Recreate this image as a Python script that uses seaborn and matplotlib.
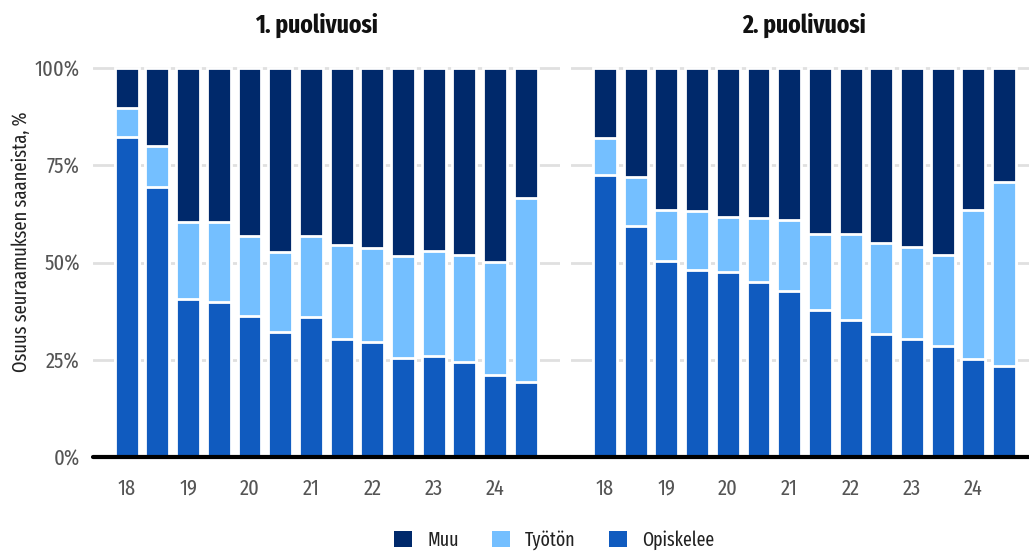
import pandas as pd
import matplotlib.pyplot as plt
import seaborn as sns
from matplotlib import font_manager
from matplotlib.patches import Patch

# Data (share of people, %)
ages = ["18", "18.5", "19", "19.5", "20", "20.5", "21", "21.5",
        "22", "22.5", "23", "23.5", "24", "24.5"]
tick_labels = ["18", "19", "20", "21", "22", "23", "24"]
halves = ["1. puolivuosi", "2. puolivuosi"]
categories = ["Opiskelee", "Työtön", "Muu"]

opiskelee_h1 = [82.2, 69.3, 40.7, 39.9, 36.3, 32.1, 35.9, 30.4, 29.5, 25.4, 25.9, 24.3, 21.1, 19.4]
tyoton_h1 = [7.4, 10.7, 19.6, 20.4, 20.4, 20.6, 20.8, 24.2, 24.3, 26.3, 27.0, 27.5, 29.0, 47.1]
muu_h1 = [10.4, 20.0, 39.7, 39.7, 43.3, 47.3, 43.3, 45.4, 46.2, 48.3, 47.1, 48.2, 49.9, 33.5]

opiskelee_h2 = [72.6, 59.3, 50.4, 48.2, 47.6, 45.1, 42.8, 37.9, 35.2, 31.5, 30.3, 28.5, 25.2, 23.4]
tyoton_h2 = [9.5, 12.6, 13.2, 15.1, 14.0, 16.3, 18.1, 19.5, 22.2, 23.4, 23.8, 23.3, 38.2, 47.2]
muu_h2 = [17.9, 28.1, 36.4, 36.7, 38.4, 38.6, 39.1, 42.6, 42.6, 45.1, 45.9, 48.2, 36.6, 29.4]

colors = {"Opiskelee": "#105bbf", "Työtön": "#74bfff", "Muu": "#00296b"}

# Long table with cumulative heights for stacking
rows = []
series = {
    halves[0]: [opiskelee_h1, tyoton_h1, muu_h1],
    halves[1]: [opiskelee_h2, tyoton_h2, muu_h2],
}
for half, vals in series.items():
    for i, age in enumerate(ages):
        cum = 0
        for cat, v in zip(categories, vals):
            cum += v[i]
            rows.append({"half": half, "age": age, "category": cat, "value": v[i], "cum": cum})
df = pd.DataFrame(rows)

sns.set_theme(style="white")

# pick a condensed font if one is installed
installed = {f.name for f in font_manager.fontManager.ttflist}
wanted = ["Fira Sans Extra Condensed", "Fira Sans Condensed", "Open Sans Condensed",
          "PT Sans Narrow", "Roboto Condensed", "Asap Condensed", "Archivo Narrow",
          "Liberation Sans Narrow"]
font = [f for f in wanted if f in installed][:1] + ["DejaVu Sans"]
plt.rcParams["font.family"] = font

fig = plt.figure(figsize=(10.29, 5.51), dpi=100)
W, H = 1029, 551
px_per_bar = 30.7
first_bar = [126.7, 605.0]
left_px = [93, 571]
right_px = [560, 1029]
base_px = 457
ymax = 102
top_px = 68 - 2 * 3.89

axes = []
for k, half in enumerate(halves):
    ax = fig.add_axes([left_px[k] / W, (H - base_px) / H,
                       (right_px[k] - left_px[k]) / W, (base_px - top_px) / H])
    sub = df[df["half"] == half]
    # draw from top layer down so lower segments sit on top
    for cat in reversed(categories):
        layer = sub[sub["category"] == cat]
        sns.barplot(data=layer, x="age", y="cum", order=ages, color=colors[cat],
                    width=0.78, edgecolor="white", linewidth=2, saturation=1,
                    errorbar=None, ax=ax, zorder=3)
    ax.set_xlim((left_px[k] - first_bar[k]) / px_per_bar,
                (right_px[k] - first_bar[k]) / px_per_bar)
    ax.set_ylim(0, ymax)
    ax.set_yticks([0, 25, 50, 75, 100])
    for y in [25, 50, 75, 100]:
        ax.axhline(y, color="#e0e0e0", lw=2, zorder=1)
    xmax = 1.0 if k == 1 else (571 - 93) / (560 - 93)
    ax.axhline(0, xmin=0, xmax=xmax, color="black", lw=3, zorder=5, clip_on=False)
    ax.set_xticks([ages.index(t) for t in tick_labels])
    ax.set_xticklabels(tick_labels)
    ax.tick_params(axis="x", length=0, pad=15, labelsize=16, labelcolor="#555555")
    ax.tick_params(axis="y", length=0, pad=9.5, labelsize=16, labelcolor="#555555")
    if k == 0:
        ax.set_yticklabels([f"{t}%" for t in [0, 25, 50, 75, 100]])
        ax.set_ylabel("Osuus seuraamuksen saaneista, %", fontsize=14.5, color="#222222")
        ax.yaxis.set_label_coords((31 - 93) / (560 - 93), (base_px - 242) / (base_px - top_px))
    else:
        ax.set_yticklabels([])
        ax.set_ylabel("")
    ax.set_xlabel("")
    sns.despine(ax=ax, left=True, bottom=True)
    ax.grid(False)
    axes.append(ax)

# Facet titles
title_x = [316, 804]
for k, half in enumerate(halves):
    fig.text(title_x[k] / W, 1 - 25 / H, half, ha="center", va="center",
             fontsize=18.5, fontweight="bold", color="#111111")

# Legend
handles = [Patch(facecolor=colors[c], edgecolor="none") for c in ["Muu", "Työtön", "Opiskelee"]]
fig.legend(handles, ["Muu", "Työtön", "Opiskelee"], loc="center", ncol=3,
           bbox_to_anchor=(554 / W, 1 - 540 / H), frameon=False, fontsize=14,
           handlelength=0.93, handleheight=0.93, columnspacing=1.7, handletextpad=0.77,
           labelcolor="#222222")

fig.savefig("out.png", dpi=100)
